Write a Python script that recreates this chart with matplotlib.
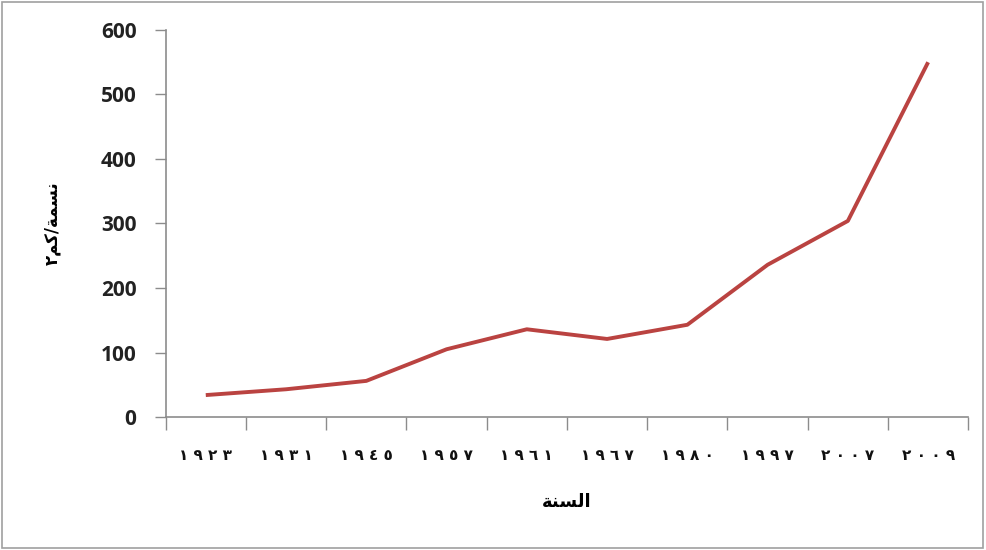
import matplotlib
matplotlib.use('Agg')
import matplotlib.pyplot as plt
from matplotlib.patches import Rectangle

# population density (persons per km2) by census year
years = ['١٩٢٣', '١٩٣١', '١٩٤٥', '١٩٥٧', '١٩٦١',
         '١٩٦٧', '١٩٨٠', '١٩٩٧', '٢٠٠٧', '٢٠٠٩']
density = [34, 43, 56, 105, 136, 121, 143, 236, 304, 550]

# matplotlib does no Arabic shaping or bidi, so the titles are written
# with presentation forms in visual (left-to-right) order
xlabel = '\uFE94\uFEE8\uFEB4\uFEDF\uFE8D'                       # السنة
ylabel = '\u0662\uFEE2\uFEDB/\uFE94\uFEE4\uFEB4\uFEE7'          # نسمة/كم٢

line_colour = '#BA4341'
axis_colour = '#8C8C8C'

fig = plt.figure(figsize=(9.86, 5.5), dpi=100)
fig.patches.append(Rectangle((0.002, 0.003), 0.995, 0.993, transform=fig.transFigure,
                             fill=False, edgecolor='#A0A0A0', linewidth=1.2))
ax = fig.add_axes([0.168, 0.2418, 0.814, 0.7037])

pos = [i + 0.5 for i in range(len(years))]
ax.plot(pos, density, color=line_colour, linewidth=2.8, solid_capstyle='butt')

ax.set_xlim(0, len(years))
ax.set_ylim(0, 600)
ax.set_yticks(range(0, 601, 100))
ax.set_yticklabels([str(v) for v in range(0, 601, 100)],
                   fontsize=15, fontweight='bold', color='#222222', family='Open Sans')

# category boundaries carry the ticks, labels sit at the centres
ax.set_xticks(range(len(years) + 1))
ax.set_xticklabels([])
ax.set_xticks(pos, minor=True)
ax.set_xticklabels([' '.join(y) for y in years], minor=True,
                   fontsize=11, fontweight='bold', color='#111111', family=['DejaVu Sans'])
ax.tick_params(axis='x', which='minor', length=0, pad=22)
ax.tick_params(axis='x', which='major', length=9, width=1, color=axis_colour)
ax.tick_params(axis='y', length=8, width=1, color=axis_colour, pad=13)

for side in ('top', 'right'):
    ax.spines[side].set_visible(False)
for side in ('left', 'bottom'):
    ax.spines[side].set_color(axis_colour)
    ax.spines[side].set_linewidth(1.2)

ax.set_xlabel(xlabel, fontsize=13, fontweight='bold', family=['DejaVu Sans'], labelpad=22)
ax.set_ylabel(ylabel, fontsize=12, fontweight='bold', family=['DejaVu Sans'], labelpad=28)

fig.savefig('out.png', dpi=100)
